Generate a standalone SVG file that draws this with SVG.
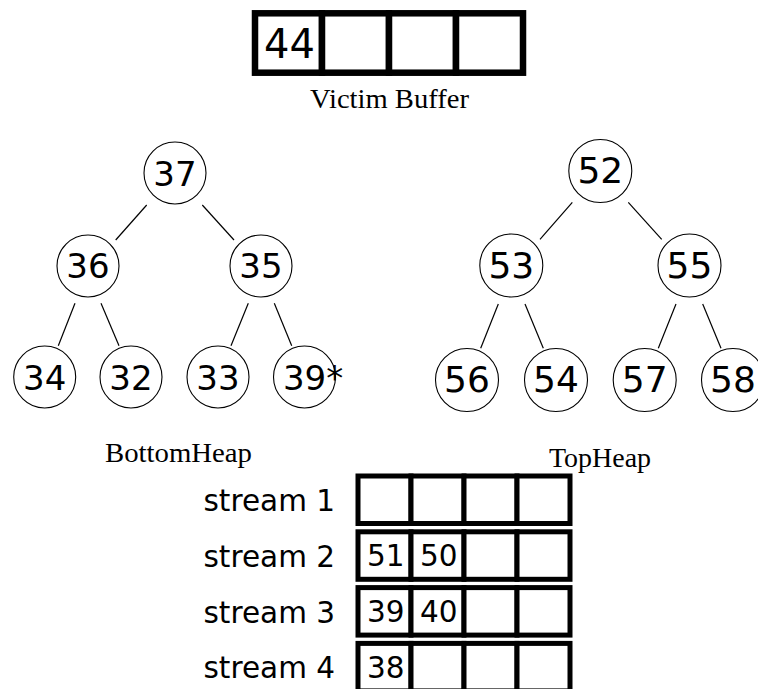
<svg xmlns="http://www.w3.org/2000/svg" width="758" height="689" viewBox="0 0 758 689">
  <style>
    .node circle { fill: #fff; stroke: #000; stroke-width: 1.1; }
    .num { font-family: "DejaVu Sans", sans-serif; fill: #000; }
    .lt { font-size: 34px; text-anchor: middle; }
    .rt { font-size: 36px; text-anchor: middle; }
    .cap { font-family: "Liberation Serif", "Times New Roman", serif; font-size: 27px; fill: #000; }
    .edge { stroke: #000; stroke-width: 1.2; fill: none; }
    .vb rect { fill: #fff; stroke: #000; stroke-width: 6.5; }
    .sg rect { fill: #fff; stroke: #000; stroke-width: 5; }
    .lbl { font-family: "DejaVu Sans", sans-serif; font-size: 29.5px; fill: #000; }
    .cell { font-family: "DejaVu Sans", sans-serif; font-size: 29.5px; fill: #000; }
  </style>

  <rect width="758" height="689" fill="#fff"/>

  <!-- Victim buffer: four slots -->
  <g id="victim-buffer" class="vb">
    <rect x="255" y="13.3" width="67" height="59.4"/>
    <rect x="322" y="13.3" width="67" height="59.4"/>
    <rect x="389" y="13.3" width="67" height="59.4"/>
    <rect x="456" y="13.3" width="67" height="59.4"/>
    <text class="num" x="264" y="57.5" font-size="40">44</text>
  </g>
  <text class="cap" x="310" y="108" textLength="159" lengthAdjust="spacingAndGlyphs">Victim Buffer</text>

  <!-- Tree edges -->
  <g id="connectors">
    <line class="edge" x1="146.7" y1="205" x2="115.7" y2="240"/>
    <line class="edge" x1="202.3" y1="205" x2="234" y2="240"/>
    <line class="edge" x1="75" y1="303.3" x2="58.3" y2="345.7"/>
    <line class="edge" x1="101" y1="303.3" x2="119" y2="345.7"/>
    <line class="edge" x1="248.3" y1="303.3" x2="231" y2="345.7"/>
    <line class="edge" x1="274.3" y1="303.3" x2="291.7" y2="345.7"/>

    <line class="edge" x1="572.3" y1="202.3" x2="540" y2="239.3"/>
    <line class="edge" x1="628.3" y1="202.3" x2="661.7" y2="239.3"/>
    <line class="edge" x1="498.3" y1="304" x2="480.7" y2="348.3"/>
    <line class="edge" x1="525" y1="304" x2="543.3" y2="348.3"/>
    <line class="edge" x1="676" y1="304" x2="658.3" y2="348.3"/>
    <line class="edge" x1="702.7" y1="304" x2="721" y2="348.3"/>
  </g>

  <!-- Bottom heap -->
  <g id="b37" class="node"><circle cx="175" cy="173" r="31"/><text class="num lt" x="175" y="185.5">37</text></g>
  <g id="b36" class="node"><circle cx="88" cy="266" r="31"/><text class="num lt" x="88" y="278.3">36</text></g>
  <g id="b35" class="node"><circle cx="261" cy="266" r="31"/><text class="num lt" x="261" y="278.3">35</text></g>
  <g id="b34" class="node"><circle cx="44.7" cy="377" r="31"/><text class="num lt" x="44.7" y="389.5">34</text></g>
  <g id="b32" class="node"><circle cx="131" cy="377" r="31"/><text class="num lt" x="131" y="389.5">32</text></g>
  <g id="b33" class="node"><circle cx="218" cy="377" r="31"/><text class="num lt" x="218" y="389.5">33</text></g>
  <g id="b39" class="node"><circle cx="304.5" cy="377" r="31"/><text class="num" font-size="34" x="282.9" y="389.5">39*</text></g>

  <!-- Top heap -->
  <g id="t52" class="node"><circle cx="600.3" cy="171" r="31.5"/><text class="num rt" x="600.3" y="183.3">52</text></g>
  <g id="t53" class="node"><circle cx="511.3" cy="265.5" r="31.5"/><text class="num rt" x="511.3" y="278.3">53</text></g>
  <g id="t55" class="node"><circle cx="689.5" cy="265.5" r="31.5"/><text class="num rt" x="689.5" y="278.3">55</text></g>
  <g id="t56" class="node"><circle cx="467" cy="380" r="31.5"/><text class="num rt" x="467" y="391.7">56</text></g>
  <g id="t54" class="node"><circle cx="556" cy="380" r="31.5"/><text class="num rt" x="556" y="391.7">54</text></g>
  <g id="t57" class="node"><circle cx="644.7" cy="380" r="31.5"/><text class="num rt" x="644.7" y="391.7">57</text></g>
  <g id="t58" class="node"><circle cx="733" cy="380" r="31.5"/><text class="num rt" x="733" y="391.7">58</text></g>

  <text class="cap" x="105" y="462" textLength="147" lengthAdjust="spacingAndGlyphs">BottomHeap</text>
  <text class="cap" x="549" y="467" textLength="102" lengthAdjust="spacingAndGlyphs">TopHeap</text>

  <!-- Stream buffers -->
  <g id="stream1" class="sg">
    <text class="lbl" x="203.5" y="511">stream 1</text>
    <rect x="358" y="476" width="53" height="47.5"/>
    <rect x="411" y="476" width="53" height="47.5"/>
    <rect x="464" y="476" width="53" height="47.5"/>
    <rect x="517" y="476" width="53" height="47.5"/>
  </g>
  <g id="stream2" class="sg">
    <text class="lbl" x="203.5" y="566.7">stream 2</text>
    <rect x="358" y="531.8" width="53" height="47.5"/>
    <rect x="411" y="531.8" width="53" height="47.5"/>
    <rect x="464" y="531.8" width="53" height="47.5"/>
    <rect x="517" y="531.8" width="53" height="47.5"/>
    <text class="cell" x="367" y="566.2">51</text>
    <text class="cell" x="420" y="566.2">50</text>
  </g>
  <g id="stream3" class="sg">
    <text class="lbl" x="203.5" y="622.7">stream 3</text>
    <rect x="358" y="587.6" width="53" height="47.5"/>
    <rect x="411" y="587.6" width="53" height="47.5"/>
    <rect x="464" y="587.6" width="53" height="47.5"/>
    <rect x="517" y="587.6" width="53" height="47.5"/>
    <text class="cell" x="367" y="622.2">39</text>
    <text class="cell" x="420" y="622.2">40</text>
  </g>
  <g id="stream4" class="sg">
    <text class="lbl" x="203.5" y="678.3">stream 4</text>
    <rect x="358" y="643.4" width="53" height="47.5"/>
    <rect x="411" y="643.4" width="53" height="47.5"/>
    <rect x="464" y="643.4" width="53" height="47.5"/>
    <rect x="517" y="643.4" width="53" height="47.5"/>
    <text class="cell" x="367" y="678">38</text>
  </g>
</svg>
